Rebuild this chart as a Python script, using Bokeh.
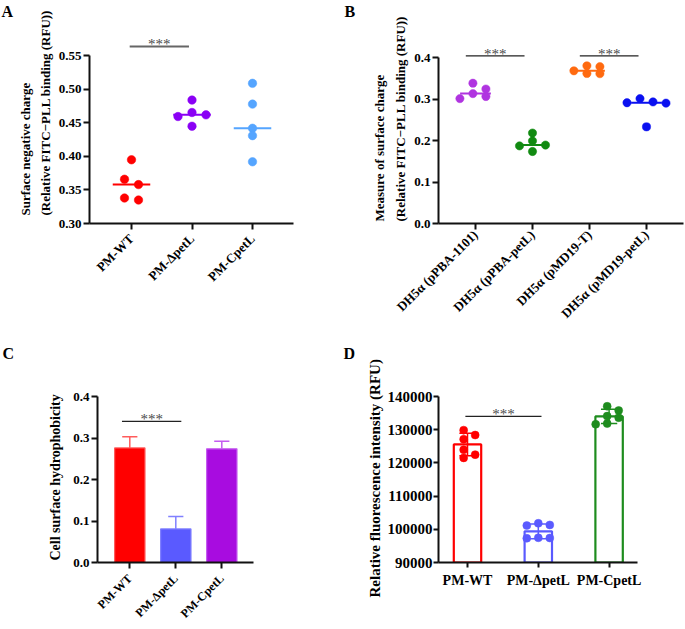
import math
from bokeh.plotting import figure
from bokeh.models import Range1d, FixedTicker, PrintfTickFormatter, Title
from bokeh.layouts import row, column
from bokeh.embed import file_html
from bokeh.resources import INLINE
from bokeh.core.properties import value

SERIF = "Liberation Serif"

# ---------------- data ----------------
pm_groups = ["PM-WT", "PM-\u0394petL", "PM-CpetL"]

# Panel A: surface negative charge (dot plot, median line)
a_wt = [0.395, 0.366, 0.358, 0.338, 0.335]
a_del = [0.484, 0.4655, 0.462, 0.4595, 0.445]
a_comp = [0.509, 0.478, 0.442, 0.431, 0.392]
a_ticks = [0.30, 0.35, 0.40, 0.45, 0.50, 0.55]
a_colors = ["#FF0000", "#8A00F5", "#55A5FF"]

# Panel B: measure of surface charge
b_groups = ["DH5\u03b1 (pPBA-1101)", "DH5\u03b1 (pPBA-petL)", "DH5\u03b1 (pMD19-T)", "DH5\u03b1 (pMD19-petL)"]
b_pba1101 = [0.338, 0.324, 0.313, 0.306, 0.301]
b_pbapetl = [0.218, 0.199, 0.189, 0.187, 0.1735]
b_pmd19t = [0.380, 0.378, 0.368, 0.3615, 0.361]
b_pmd19petl = [0.301, 0.293, 0.291, 0.290, 0.233]
b_ticks = [0.0, 0.1, 0.2, 0.3, 0.4]
b_colors = ["#B034E0", "#118A11", "#FF6A10", "#0A10F0"]

# Panel C: cell surface hydrophobicity (mean + SD)
c_mean = [0.276, 0.081, 0.274]
c_sd = [0.027, 0.030, 0.018]
c_ticks = [0.0, 0.1, 0.2, 0.3, 0.4]
c_fill = ["#FF0000", "#5A5AFF", "#A80CE0"]
c_edge = ["#FF5C5C", "#8080FF", "#C45CF0"]

# Panel D: relative fluorescence intensity
d_wt = [129870, 128390, 127120, 123960, 122490, 121510]
d_del = [101810, 101310, 101130, 97450, 97380, 97300]
d_comp = [137050, 135780, 134090, 133620, 131850, 131640]
d_ticks = [90000, 100000, 110000, 120000, 130000, 140000]
d_colors = ["#FF0000", "#5A5AFF", "#1E8C1E"]

sig_a = [(1, 2, 0.564)]
sig_b = [(1, 2, 0.404), (3, 4, 0.404)]
sig_c = [(1, 2, 0.340)]
sig_d = [(1, 2, 134000)]


# ---------------- helpers ----------------
def xrange_for(frame_w, first_tick_px, ppx):
    x0 = 1 - first_tick_px / ppx
    return (x0, x0 + frame_w / ppx)


def make_fig(w, h, left, right, top, bottom, xr, yr, font_size="13px",
             tick_out=6, standoff=2):
    p = figure(width=w, height=h, x_range=Range1d(*xr), y_range=Range1d(*yr),
               output_backend="svg", toolbar_location=None, title=None,
               min_border_left=left, min_border_right=right,
               min_border_top=top, min_border_bottom=bottom)
    p.outline_line_color = None
    p.xgrid.visible = False
    p.ygrid.visible = False
    for ax in (p.xaxis[0], p.yaxis[0]):
        ax.axis_line_width = 2
        ax.axis_line_color = "#111111"
        ax.major_tick_line_width = 2
        ax.major_tick_line_color = "#111111"
        ax.major_tick_out = tick_out
        ax.major_tick_in = 0
        ax.minor_tick_line_color = None
        ax.major_label_text_font = SERIF
        ax.major_label_text_font_style = "bold"
        ax.major_label_text_font_size = font_size
        ax.major_label_text_color = "black"
        ax.major_label_standoff = standoff
    return p


def set_x_cats(p, names, angle=None, standoff=3):
    ax = p.xaxis[0]
    ax.ticker = FixedTicker(ticks=list(range(1, len(names) + 1)))
    ax.major_label_overrides = {i + 1: n for i, n in enumerate(names)}
    ax.major_label_standoff = standoff
    if angle is not None:
        ax.major_label_orientation = angle


def side_title(p, text, side, size, align="left", offset=0, standoff=0):
    p.add_layout(Title(text=text, align=align, offset=offset, standoff=standoff,
                       text_font=SERIF, text_font_style="bold",
                       text_font_size=size, text_color="black"), side)


def swarm(vals, ppy, ppx, d, step):
    n = len(vals)
    order = sorted(range(n), key=lambda i: -vals[i])
    thr = 0.85 * d
    cands = [0.0]
    for k in range(1, 6):
        cands += [k * step, -k * step]
    placed = []
    offs = [0.0] * n
    for i in order:
        y = vals[i] * ppy
        for c in cands:
            if all((c - px) ** 2 + (y - py) ** 2 >= thr ** 2 for px, py in placed):
                break
        placed.append((c, y))
        offs[i] = c
    clusters = [[order[0]]]
    for a, b in zip(order[:-1], order[1:]):
        if (vals[a] - vals[b]) * ppy < thr:
            clusters[-1].append(b)
        else:
            clusters.append([b])
    for cl in clusters:
        m = sum(offs[i] for i in cl) / len(cl)
        for i in cl:
            offs[i] -= m
    return [o / ppx for o in offs]


def median(v):
    s = sorted(v)
    n = len(s)
    return s[n // 2] if n % 2 else 0.5 * (s[n // 2 - 1] + s[n // 2])


def mean_sd(v):
    m = sum(v) / len(v)
    sd = math.sqrt(sum((x - m) ** 2 for x in v) / (len(v) - 1))
    return m, sd


def dots(p, groups, colors, ppy, ppx, d, step, half_line):
    for gi, (vals, col) in enumerate(zip(groups, colors)):
        x = gi + 1
        offs = swarm(vals, ppy, ppx, d, step)
        p.scatter([x + o for o in offs], vals, size=d, fill_color=col,
                  line_color=col, line_width=0.5)
        if half_line:
            med = median(vals)
            p.segment(x0=[x - half_line], x1=[x + half_line], y0=[med], y1=[med],
                      line_color=col, line_width=2)


def sig(p, items, color, width, size, dx0=0.0, dx1=0.0, yoff=-2):
    for (i, j, y) in items:
        p.segment(x0=[i + dx0], x1=[j + dx1], y0=[y], y1=[y], line_color=color,
                  line_width=width)
        p.text(x=[(i + j) / 2 + (dx0 + dx1) / 2], y=[y], text=["***"],
               text_align="center", text_baseline="alphabetic",
               text_font=value(SERIF), text_font_size=size,
               text_color="#4a4a4a", y_offset=yoff)


TOP_H, BOT_H = 330, 299
LEFT_W, RIGHT_W = 338, 347
T_TOP, T_BOT = 19, 107          # top-row borders  -> frame 19..223
B_TOP, B_BOT = 31, 67           # bottom-row borders -> frame 361..562
T_FH = TOP_H - T_TOP - T_BOT
B_FH = BOT_H - B_TOP - B_BOT

# ---------------- panel A ----------------
pa = make_fig(LEFT_W, TOP_H, 89, 45, T_TOP, T_BOT, xrange_for(204, 42, 60.5),
              (0.30, 0.30 + T_FH / 670.7))
pa.yaxis[0].ticker = FixedTicker(ticks=a_ticks)
pa.yaxis[0].formatter = PrintfTickFormatter(format="%.2f")
pa.yaxis[0].bounds = (0.30, 0.55)
set_x_cats(pa, pm_groups, angle=math.pi / 4, standoff=7)
dots(pa, [a_wt, a_del, a_comp], a_colors, 670.7, 60.5, 8.5, 14, 0.31)
sig(pa, sig_a, "#666666", 2, "15px", dx0=-0.03, dx1=-0.05)
side_title(pa, "A", "above", "16px", offset=-88, standoff=0)
side_title(pa, "(Relative FITC\u2212PLL binding (RFU))", "left", "13px", offset=8, standoff=6)
side_title(pa, "Surface negative charge", "left", "13px", offset=8, standoff=0)

# ---------------- panel B ----------------
pb = make_fig(RIGHT_W, TOP_H, 100, 2, T_TOP, T_BOT, xrange_for(245, 37, 57.0),
              (0.0, T_FH / 415.0))
pb.yaxis[0].ticker = FixedTicker(ticks=b_ticks)
pb.yaxis[0].formatter = PrintfTickFormatter(format="%.1f")
pb.yaxis[0].bounds = (0.0, 0.4)
set_x_cats(pb, b_groups, angle=math.pi / 4, standoff=3)
dots(pb, [b_pba1101, b_pbapetl, b_pmd19t, b_pmd19petl], b_colors, 415.0, 57.0,
     8.3, 13, 0.27)
sig(pb, sig_b, "#222222", 1.3, "15px", dx0=-0.17, dx1=-0.14)
side_title(pb, "B", "above", "16px", offset=-94, standoff=0)
side_title(pb, "(Relative FITC\u2212PLL binding (RFU))", "left", "13px", offset=2, standoff=8)
side_title(pb, "Measure of surface charge", "left", "13px", offset=2, standoff=0)

# ---------------- panel C ----------------
pc = make_fig(LEFT_W, BOT_H, 97, 85, B_TOP, B_BOT, xrange_for(156, 32.3, 46.0),
              (0.0, B_FH / 415.0))
pc.yaxis[0].ticker = FixedTicker(ticks=c_ticks)
pc.yaxis[0].formatter = PrintfTickFormatter(format="%.1f")
pc.yaxis[0].bounds = (0.0, 0.4)
set_x_cats(pc, pm_groups, angle=math.pi / 4, standoff=8)
pc.xaxis[0].major_label_text_font_size = "12px"
cx = [1, 2, 3]
pc.vbar(x=cx, top=c_mean, bottom=0, width=0.66, fill_color=c_fill,
        line_color=c_edge, line_width=1.2)
c_top = [m + s for m, s in zip(c_mean, c_sd)]
pc.segment(x0=cx, x1=cx, y0=c_mean, y1=c_top, line_color=c_edge, line_width=1.5)
pc.segment(x0=[x - 0.165 for x in cx], x1=[x + 0.165 for x in cx], y0=c_top, y1=c_top,
           line_color=c_edge, line_width=1.5)
sig(pc, sig_c, "#222222", 1.3, "15px", dx0=-0.17, dx1=0.12)
side_title(pc, "C", "above", "16px", offset=-95, standoff=0)
side_title(pc, "Cell surface hydrophobicity", "left", "14px", offset=2, standoff=16)

# ---------------- panel D ----------------
d_ppy = 166 / 50000
pd_ = make_fig(RIGHT_W, BOT_H, 100, 48, B_TOP, B_BOT, xrange_for(199, 29, 70.8),
               (90000, 90000 + B_FH / d_ppy), font_size="15px", tick_out=5, standoff=1)
pd_.yaxis[0].ticker = FixedTicker(ticks=d_ticks)
pd_.yaxis[0].formatter = PrintfTickFormatter(format="%d")
pd_.yaxis[0].bounds = (90000, 140000)
set_x_cats(pd_, pm_groups, standoff=5)
pd_.xaxis[0].major_label_text_font_size = "14px"
d_groups = [d_wt, d_del, d_comp]
stats = [mean_sd(g) for g in d_groups]
dm = [s[0] for s in stats]
dsd = [s[1] for s in stats]
dx = [1, 2, 3]
pd_.vbar(x=dx, top=dm, bottom=90000, width=0.387, fill_color=None,
         line_color=d_colors, line_width=2.2)
pd_.segment(x0=dx, x1=dx, y0=[m - s for m, s in zip(dm, dsd)],
            y1=[m + s for m, s in zip(dm, dsd)], line_color=d_colors, line_width=1.5)
for sgn in (-1, 1):
    yy = [m + sgn * s for m, s in zip(dm, dsd)]
    pd_.segment(x0=[x - 0.115 for x in dx], x1=[x + 0.115 for x in dx], y0=yy, y1=yy,
                line_color=d_colors, line_width=1.5)
dots(pd_, d_groups, d_colors, d_ppy, 70.8, 8, 11.5, None)
sig(pd_, sig_d, "#222222", 1.3, "15px", dx0=-0.03, dx1=0.045)
side_title(pd_, "D", "above", "16px", offset=-95, standoff=0)
side_title(pd_, "Relative fluorescence intensity (RFU)", "left", "15px",
           offset=-35, standoff=4)

layout = column(row(pa, pb), row(pc, pd_))
open("out.html", "w").write(file_html(layout, INLINE))
